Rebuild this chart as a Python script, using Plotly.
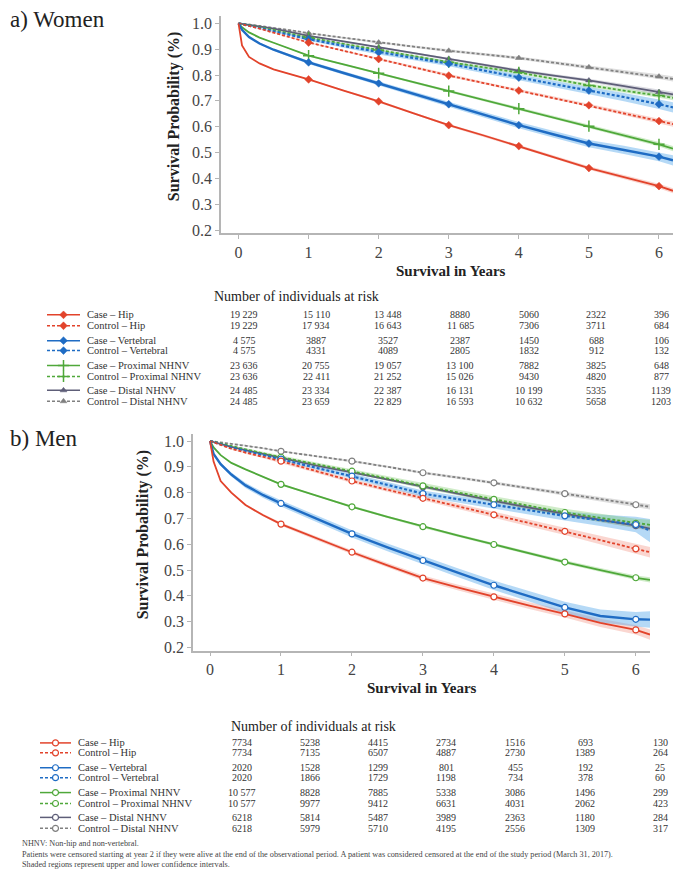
import plotly.graph_objects as go

# ---------------- data ----------------
T = [0, 0.05, 0.15, 0.3, 0.5, 0.75, 1, 1.5, 2, 2.5, 3, 3.5, 4, 4.5, 5, 5.5, 6, 6.2]
YEARS = [0, 1, 2, 3, 4, 5, 6]
Y_TICKS = [0.2, 0.3, 0.4, 0.5, 0.6, 0.7, 0.8, 0.9, 1.0]
Y_TICK_TEXT = ["0.2", "0.3", "0.4", "0.5", "0.6", "0.7", "0.8", "0.9", "1.0"]

SERIES = ["Case – Hip", "Control – Hip", "Case – Vertebral", "Control – Vertebral",
          "Case – Proximal NHNV", "Control – Proximal NHNV", "Case – Distal NHNV", "Control – Distal NHNV"]

women_case_hip = [1.0, 0.915, 0.87, 0.845, 0.822, 0.803, 0.783, 0.74, 0.698, 0.652, 0.606, 0.566, 0.525, 0.483, 0.44, 0.405, 0.37, 0.352]
women_ctrl_hip = [1.0, 0.997, 0.99, 0.98, 0.964, 0.945, 0.926, 0.894, 0.862, 0.83, 0.798, 0.769, 0.74, 0.712, 0.683, 0.652, 0.622, 0.61]
women_case_vert = [1.0, 0.975, 0.947, 0.922, 0.898, 0.873, 0.849, 0.808, 0.768, 0.728, 0.687, 0.647, 0.606, 0.57, 0.535, 0.51, 0.484, 0.47]
women_ctrl_vert = [1.0, 0.997, 0.99, 0.98, 0.97, 0.955, 0.939, 0.913, 0.888, 0.866, 0.844, 0.817, 0.79, 0.765, 0.74, 0.715, 0.687, 0.675]
women_case_prox = [1.0, 0.985, 0.965, 0.945, 0.925, 0.9, 0.875, 0.841, 0.807, 0.773, 0.738, 0.704, 0.67, 0.636, 0.602, 0.567, 0.532, 0.515]
women_ctrl_prox = [1.0, 0.998, 0.993, 0.985, 0.975, 0.96, 0.945, 0.921, 0.897, 0.873, 0.85, 0.83, 0.81, 0.785, 0.76, 0.74, 0.721, 0.712]
women_case_dist = [1.0, 0.998, 0.994, 0.988, 0.98, 0.966, 0.952, 0.93, 0.907, 0.885, 0.863, 0.84, 0.817, 0.798, 0.779, 0.757, 0.734, 0.725]
women_ctrl_dist = [1.0, 0.999, 0.996, 0.99, 0.983, 0.973, 0.962, 0.944, 0.926, 0.91, 0.894, 0.88, 0.866, 0.848, 0.83, 0.812, 0.794, 0.785]

men_case_hip = [1.0, 0.92, 0.845, 0.8, 0.752, 0.712, 0.678, 0.622, 0.569, 0.518, 0.469, 0.432, 0.396, 0.362, 0.33, 0.295, 0.268, 0.25]
men_ctrl_hip = [1.0, 0.995, 0.985, 0.97, 0.955, 0.938, 0.922, 0.883, 0.845, 0.811, 0.778, 0.746, 0.714, 0.682, 0.65, 0.616, 0.582, 0.569]
men_case_vert = [1.0, 0.95, 0.91, 0.87, 0.828, 0.79, 0.758, 0.698, 0.64, 0.588, 0.537, 0.489, 0.441, 0.398, 0.355, 0.322, 0.309, 0.308]
men_ctrl_vert = [1.0, 0.995, 0.987, 0.975, 0.962, 0.946, 0.93, 0.897, 0.864, 0.83, 0.796, 0.774, 0.753, 0.731, 0.71, 0.693, 0.676, 0.653]
men_case_prox = [1.0, 0.975, 0.945, 0.915, 0.89, 0.86, 0.832, 0.788, 0.745, 0.706, 0.668, 0.633, 0.599, 0.565, 0.531, 0.5, 0.47, 0.462]
men_ctrl_prox = [1.0, 0.997, 0.99, 0.98, 0.968, 0.952, 0.937, 0.91, 0.883, 0.855, 0.826, 0.8, 0.774, 0.748, 0.723, 0.702, 0.681, 0.675]
men_case_dist = [1.0, 0.996, 0.988, 0.977, 0.965, 0.95, 0.935, 0.905, 0.878, 0.85, 0.822, 0.795, 0.768, 0.742, 0.717, 0.694, 0.672, 0.66]
men_ctrl_dist = [1.0, 0.998, 0.995, 0.99, 0.983, 0.972, 0.96, 0.941, 0.922, 0.9, 0.877, 0.858, 0.838, 0.817, 0.796, 0.775, 0.753, 0.745]

# confidence-interval half widths (estimated from the shaded bands)
ci_small = [0, 0, 0.001, 0.001, 0.002, 0.002, 0.003, 0.003, 0.004, 0.004, 0.005, 0.005, 0.006, 0.006, 0.007, 0.008, 0.009, 0.01]
ci_medium = [0, 0.001, 0.002, 0.003, 0.004, 0.005, 0.006, 0.007, 0.008, 0.009, 0.01, 0.011, 0.012, 0.013, 0.014, 0.016, 0.018, 0.02]
ci_large = [0, 0.003, 0.006, 0.008, 0.01, 0.011, 0.012, 0.013, 0.014, 0.015, 0.016, 0.017, 0.018, 0.02, 0.022, 0.025, 0.028, 0.032]
ci_ctrl_vert_men = [0, 0.001, 0.002, 0.003, 0.004, 0.005, 0.006, 0.008, 0.01, 0.011, 0.012, 0.013, 0.014, 0.016, 0.018, 0.022, 0.03, 0.045]

women_values = [women_case_hip, women_ctrl_hip, women_case_vert, women_ctrl_vert,
                women_case_prox, women_ctrl_prox, women_case_dist, women_ctrl_dist]
men_values = [men_case_hip, men_ctrl_hip, men_case_vert, men_ctrl_vert,
              men_case_prox, men_ctrl_prox, men_case_dist, men_ctrl_dist]
women_ci = [ci_small, ci_small, ci_medium, ci_medium, ci_small, ci_small, ci_small, ci_small]
men_ci = [ci_medium, ci_medium, ci_large, ci_ctrl_vert_men, ci_small, ci_medium, ci_small, ci_small]

women_risk = [
    ["19 229", "15 110", "13 448", "8880", "5060", "2322", "396"],
    ["19 229", "17 934", "16 643", "11 685", "7306", "3711", "684"],
    ["4 575", "3887", "3527", "2387", "1450", "688", "106"],
    ["4 575", "4331", "4089", "2805", "1832", "912", "132"],
    ["23 636", "20 755", "19 057", "13 100", "7882", "3825", "648"],
    ["23 636", "22 411", "21 252", "15 026", "9430", "4820", "877"],
    ["24 485", "23 334", "22 387", "16 131", "10 199", "5335", "1139"],
    ["24 485", "23 659", "22 829", "16 593", "10 632", "5658", "1203"],
]
men_risk = [
    ["7734", "5238", "4415", "2734", "1516", "693", "130"],
    ["7734", "7135", "6507", "4887", "2730", "1389", "264"],
    ["2020", "1528", "1299", "801", "455", "192", "25"],
    ["2020", "1866", "1729", "1198", "734", "378", "60"],
    ["10 577", "8828", "7885", "5338", "3086", "1496", "299"],
    ["10 577", "9977", "9412", "6631", "4031", "2062", "423"],
    ["6218", "5814", "5487", "3989", "2363", "1180", "284"],
    ["6218", "5979", "5710", "4195", "2556", "1309", "317"],
]

FOOTNOTES = [
    "NHNV: Non-hip and non-vertebral.",
    "Patients were censored starting at year 2 if they were alive at the end of the observational period. A patient was considered censored at the end of the study period (March 31, 2017).",
    "Shaded regions represent upper and lower confidence intervals.",
]

# ---------------- styles ----------------
W, H = 673, 881
SERIF = "Liberation Serif, Times New Roman, serif"
LINE_COLORS = ["#e2432b", "#e2432b", "#1f6cc4", "#1f6cc4", "#4fa83a", "#4fa83a", "#5e5e78", "#808080"]
BAND_COLORS = ["rgba(240,120,100,0.30)", "rgba(240,120,100,0.30)", "rgba(90,170,235,0.45)", "rgba(90,170,235,0.45)",
               "rgba(120,200,100,0.35)", "rgba(120,200,100,0.35)", "rgba(150,150,170,0.35)", "rgba(160,160,160,0.35)"]
DASHES = ["solid", "3px,2px", "solid", "3px,2px", "solid", "3px,2px", "solid", "3px,2px"]
WIDTHS = [1.8, 1.8, 2.4, 2.2, 1.8, 1.8, 1.8, 1.8]
WOMEN_SYMBOLS = ["diamond", "diamond", "diamond", "diamond", "cross-thin", "cross-thin", "triangle-up", "triangle-up"]


def px_x(x):
    return x / W


def px_y(y):
    return 1 - y / H


fig = go.Figure()

year_idx = [T.index(y) for y in YEARS[1:]]


def marker_style(i, women):
    if women:
        sym = WOMEN_SYMBOLS[i]
        if sym == "cross-thin":
            return dict(symbol=sym, size=8, line=dict(color=LINE_COLORS[i], width=1.5))
        return dict(symbol=sym, size=6, color=LINE_COLORS[i], line=dict(color=LINE_COLORS[i], width=0.5))
    return dict(symbol="circle", size=6, color="white", line=dict(color=LINE_COLORS[i], width=1.2))


def add_panel(values, cis, xa, ya, women):
    for i, (vals, hw) in enumerate(zip(values, cis)):
        up = [min(1.0, v + h) for v, h in zip(vals, hw)]
        lo = [v - h for v, h in zip(vals, hw)]
        fig.add_trace(go.Scatter(x=T + T[::-1], y=up + lo[::-1], fill="toself", mode="lines",
                                 line=dict(width=0), fillcolor=BAND_COLORS[i], hoverinfo="skip",
                                 showlegend=False, xaxis=xa, yaxis=ya))
    order = [7, 6, 5, 3, 1, 4, 2, 0]
    for i in order:
        fig.add_trace(go.Scatter(x=T, y=values[i], mode="lines", name=SERIES[i],
                                 line=dict(color=LINE_COLORS[i], width=WIDTHS[i], dash=DASHES[i]),
                                 showlegend=False, xaxis=xa, yaxis=ya))
    for i in order:
        vals = values[i]
        fig.add_trace(go.Scatter(x=[T[k] for k in year_idx], y=[vals[k] for k in year_idx], mode="markers",
                                 marker=marker_style(i, women), showlegend=False, xaxis=xa, yaxis=ya))


add_panel(women_values, women_ci, "x", "y", True)
add_panel(men_values, men_ci, "x2", "y2", False)


def add_glyphs(rows_y, x0, x1, women):
    for i, yy in enumerate(rows_y):
        fig.add_trace(go.Scatter(x=[x0, x1], y=[yy, yy], mode="lines",
                                 line=dict(color=LINE_COLORS[i], width=1.5, dash=DASHES[i]),
                                 showlegend=False, xaxis="x3", yaxis="y3", hoverinfo="skip"))
        fig.add_trace(go.Scatter(x=[(x0 + x1) / 2], y=[yy], mode="markers",
                                 marker=marker_style(i, women),
                                 showlegend=False, xaxis="x3", yaxis="y3", hoverinfo="skip"))


WOMEN_ROWS = [316, 327, 342, 352, 367, 378, 392, 403]
MEN_ROWS = [747, 757, 772, 782, 797, 808, 822, 833]
WOMEN_COLS = [244, 316, 388, 460, 529, 596, 661]
MEN_COLS = [242, 310, 378, 446, 515, 585, 660]

add_glyphs(WOMEN_ROWS, 47, 80, True)
add_glyphs(MEN_ROWS, 40, 71, False)

axis_common = dict(showgrid=False, zeroline=False, showline=True, linecolor="#b5b5b5", linewidth=1.5,
                   ticks="outside", ticklen=4, tickcolor="#b5b5b5",
                   tickfont=dict(family=SERIF, size=16, color="#444"))

fig.update_layout(
    width=W, height=H, margin=dict(l=0, r=0, t=0, b=0),
    paper_bgcolor="white", plot_bgcolor="rgba(0,0,0,0)",
    showlegend=False,
    xaxis=dict(domain=[px_x(221), 1.0], range=[-0.25, 6.2], tickvals=YEARS, anchor="y", **axis_common),
    yaxis=dict(domain=[px_y(234), px_y(15)], range=[0.187, 1.029], tickvals=Y_TICKS, ticktext=Y_TICK_TEXT,
               anchor="x", **axis_common),
    xaxis2=dict(domain=[px_x(193), px_x(650)], range=[-0.24, 6.2], tickvals=YEARS, anchor="y2", **axis_common),
    yaxis2=dict(domain=[px_y(654), px_y(436)], range=[0.188, 1.027], tickvals=Y_TICKS, ticktext=Y_TICK_TEXT,
                anchor="x2", **axis_common),
    xaxis3=dict(domain=[0, 1], range=[0, W], visible=False, fixedrange=True, anchor="y3"),
    yaxis3=dict(domain=[0, 1], range=[H, 0], visible=False, fixedrange=True, anchor="x3"),
)

ann = []


def text(x, y, s, size, xanchor="center", bold=False, color="#222", angle=0):
    ann.append(dict(x=px_x(x), y=px_y(y), xref="paper", yref="paper", text=("<b>%s</b>" % s) if bold else s,
                    showarrow=False, xanchor=xanchor, yanchor="middle", textangle=angle,
                    font=dict(family=SERIF, size=size, color=color)))


text(8, 19, "a) Women", 23, xanchor="left")
text(8, 440, "b) Men", 23, xanchor="left")
text(174, 116, "Survival Probability (%)", 16, bold=True, angle=-90)
text(143, 537, "Survival Probability (%)", 16, bold=True, angle=-90)
text(451, 272, "Survival in Years", 15, bold=True)
text(422, 692, "Survival in Years", 15, bold=True)

text(296, 298, "Number of individuals at risk", 14)
text(313, 730, "Number of individuals at risk", 14)
for i, yy in enumerate(WOMEN_ROWS):
    text(85, yy, SERIES[i], 10.5, xanchor="left", color="#333")
    for c, v in zip(WOMEN_COLS, women_risk[i]):
        text(c, yy, v, 10, color="#333")
for i, yy in enumerate(MEN_ROWS):
    text(76, yy, SERIES[i], 10.5, xanchor="left", color="#333")
    for c, v in zip(MEN_COLS, men_risk[i]):
        text(c, yy, v, 10, color="#333")

for yy, s in zip([848, 859, 869], FOOTNOTES):
    text(20, yy, s, 8.2, xanchor="left", color="#444")

fig.update_layout(annotations=ann)

# remove the default page margin so the figure fills the 673x881 window exactly
fig.write_html("out.html", config={"displayModeBar": False}, post_script=(
    "document.documentElement.style.overflow='hidden';"
    "document.body.style.margin='0';document.body.style.overflow='hidden';"))
